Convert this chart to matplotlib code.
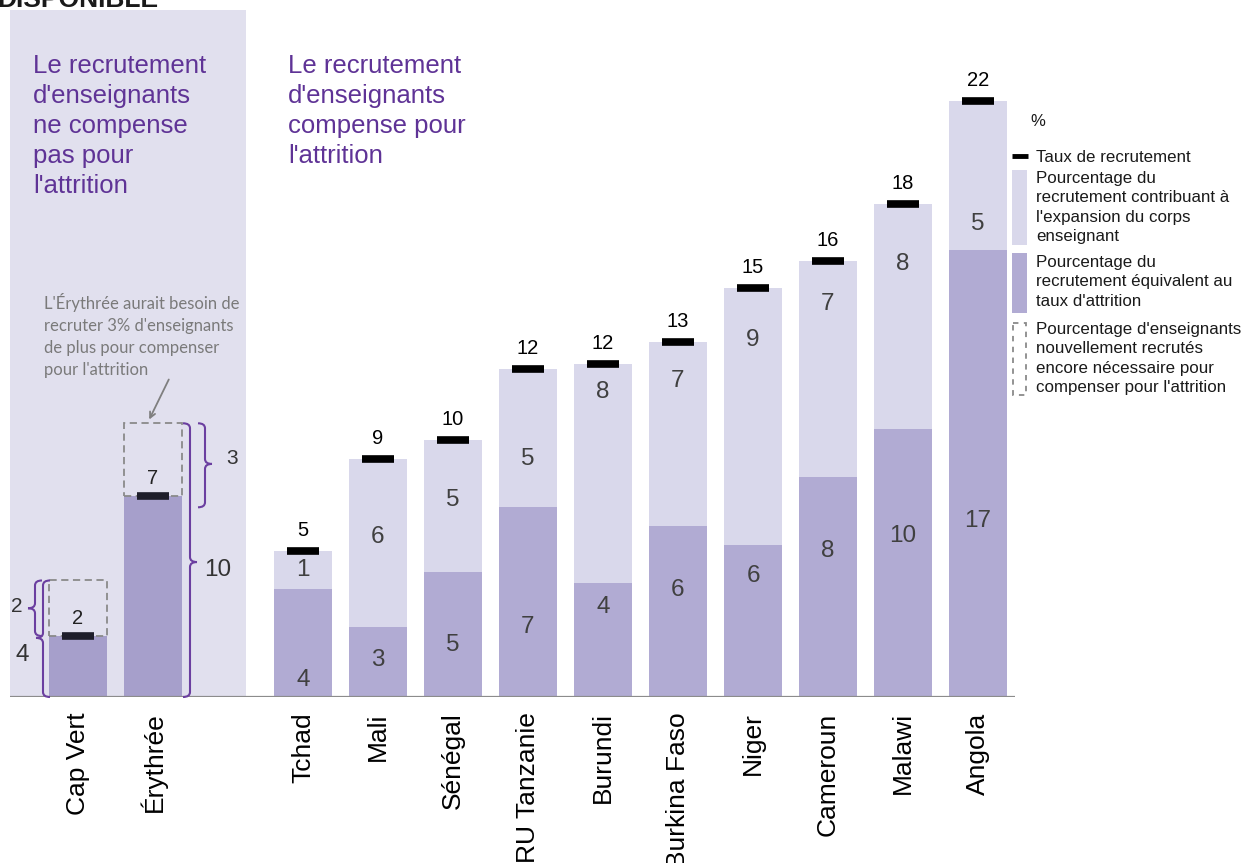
import matplotlib.pyplot as plt
from matplotlib.patches import Rectangle, PathPatch
from matplotlib.path import Path

plt.rcParams['font.family'] = ['Liberation Sans', 'DejaVu Sans']

# pays où le recrutement ne compense pas l'attrition
deficit_countries = ["Cap Vert", "Érythrée"]
deficit_recruit = [2.25, 7.4]      # taux de recrutement
deficit_needed = [4.3, 10.1]       # taux d'attrition (besoin)
deficit_recruit_lbl = ["2", "7"]

# pays où le recrutement compense l'attrition
countries = ["Tchad", "Mali", "Sénégal", "RU Tanzanie", "Burundi",
             "Burkina Faso", "Niger", "Cameroun", "Malawi", "Angola"]
recruit_total = [5.4, 8.8, 9.5, 12.1, 12.3, 13.1, 15.1, 16.1, 18.2, 22.0]
attrition_part = [4.0, 2.6, 4.6, 7.0, 4.2, 6.3, 5.6, 8.1, 9.9, 16.5]
total_lbl = ["5", "9", "10", "12", "12", "13", "15", "16", "18", "22"]
attrition_lbl = ["4", "3", "5", "7", "4", "6", "6", "8", "10", "17"]
expansion_lbl = ["1", "6", "5", "5", "8", "7", "9", "7", "8", "5"]

# layout: where the numbers sit inside the bars (same units as y)
expansion_lbl_y = [4.69, 5.90, 7.27, 8.78, 11.25, 11.66, 13.17, 14.5, 15.98, 17.45]
attrition_lbl_y = [0.63, 1.37, 1.92, 2.58, 3.32, 3.95, 4.46, 5.39, 5.94, 6.49]

LIGHT = "#d9d8eb"
DARK = "#b1abd3"
DARK2 = "#a69fcb"
SHADE = "#e1e0ee"
PURPLE = "#5f3396"
BRACE = "#6b3fa0"
NUM = "#404040"

W, H = 1246, 863
BASE = 697
PX_X = 1 / 75.0
PX_Y = 1 / 27.1

fig = plt.figure(figsize=(W / 100, H / 100), dpi=100)
ax = fig.add_axes([0, (H - BASE) / H, 1, BASE / H])
ax.set_xlim(-78 * PX_X, (W - 78) * PX_X)
ax.set_ylim(0, BASE * PX_Y)
for s in ax.spines.values():
    s.set_visible(False)
ax.set_yticks([])

x_def = [0, 1]
x_main = [i + 3 for i in range(len(countries))]
bw = 0.77

# fond grisé du groupe "ne compense pas"
ax.add_patch(Rectangle((-68 * PX_X, 0), 236 * PX_X, 687 * PX_Y, color=SHADE, zorder=0, lw=0))

# barres
ax.bar(x_def, deficit_recruit, width=bw, color=DARK2, zorder=2)
gap = [n - r for n, r in zip(deficit_needed, deficit_recruit)]
ax.bar(x_def, gap, bottom=deficit_recruit, width=bw, fill=False, edgecolor="#8a8a8a",
       linestyle=(0, (4, 2.5)), lw=1.3, zorder=2)
ax.bar(x_main, attrition_part, width=bw, color=DARK, zorder=2)
expansion = [t - a for t, a in zip(recruit_total, attrition_part)]
ax.bar(x_main, expansion, bottom=attrition_part, width=bw, color=LIGHT, zorder=2)

# taux de recrutement
ax.hlines(deficit_recruit, [x - 0.215 for x in x_def], [x + 0.215 for x in x_def],
          color="#1e1e2a", lw=5.5, capstyle="butt", zorder=3)
ax.hlines(recruit_total, [x - 0.215 for x in x_main], [x + 0.215 for x in x_main],
          color="black", lw=5.5, capstyle="butt", zorder=3)

for x, v, lbl in zip(x_def, deficit_recruit, deficit_recruit_lbl):
    ax.text(x, v + 0.65, lbl, ha="center", va="center", fontsize=14.5, color="#222222")
for x, v, lbl in zip(x_main, recruit_total, total_lbl):
    ax.text(x, v + 0.75, lbl, ha="center", va="center", fontsize=14.5, color="black")
for x, y, lbl in zip(x_main, expansion_lbl_y, expansion_lbl):
    ax.text(x, y, lbl, ha="center", va="center", fontsize=17.5, color=NUM, zorder=4)
for x, y, lbl in zip(x_main, attrition_lbl_y, attrition_lbl):
    ax.text(x, y, lbl, ha="center", va="center", fontsize=17.5, color=NUM, zorder=4)

# axe horizontal
ax.plot([-68 * PX_X, x_main[-1] + 0.49], [0, 0], color="#8c8c8c", lw=1.6, zorder=3,
        solid_capstyle="butt")

ax.set_xticks(x_def + x_main, deficit_countries + countries, rotation=90, fontsize=19)
ax.tick_params(axis="x", length=0, pad=11)


def brace(x, y0, y1, ytip, side, label, lx, ly, fs=15):
    hx = 7 * PX_X
    hy = 5 * PX_Y
    verts = [(x - side * hx, y0), (x, y0), (x, y0 + hy),
             (x, ytip - hy), (x, ytip), (x + side * hx, ytip),
             (x + side * hx, ytip), (x, ytip), (x, ytip + hy),
             (x, y1 - hy), (x, y1), (x - side * hx, y1)]
    codes = [Path.MOVETO, Path.CURVE3, Path.CURVE3,
             Path.LINETO, Path.CURVE3, Path.CURVE3,
             Path.MOVETO, Path.CURVE3, Path.CURVE3,
             Path.LINETO, Path.CURVE3, Path.CURVE3]
    ax.add_patch(PathPatch(Path(verts, codes), fill=False, edgecolor=BRACE, lw=1.5,
                           zorder=4, clip_on=False))
    ax.text(lx, ly, label, ha="center", va="center", fontsize=fs, color="#333333")


brace(-43 * PX_X, deficit_recruit[0], deficit_needed[0],
      (deficit_recruit[0] + deficit_needed[0]) / 2, -1, "2", -61 * PX_X, 90 * PX_Y)
brace(-35 * PX_X, 0, deficit_needed[0], deficit_recruit[0] - 0.07, -1, "4",
      -56 * PX_X, 42 * PX_Y, fs=17.5)
brace(127 * PX_X, 7.0, deficit_needed[1], 8.6, 1, "3", 154 * PX_X, 239 * PX_Y)
brace(112 * PX_X, 0, deficit_needed[1], 4.98, 1, "10", 140 * PX_X, 127 * PX_Y, fs=17.5)

# annotation Érythrée
ax.text(-34 * PX_X, 404 * PX_Y,
        "L'Érythrée aurait besoin de\nrecruter 3% d'enseignants\nde plus pour compenser\npour l'attrition",
        ha="left", va="top", fontsize=12, color="#7a7a7a", family=["Lato", "DejaVu Sans"],
        linespacing=1.45)
ax.annotate("", xy=(70 * PX_X, 275 * PX_Y), xytext=(92 * PX_X, 320 * PX_Y),
            arrowprops=dict(arrowstyle="->", color="#7f7f7f", lw=1.3))

# titres des groupes
ax.text(-45 * PX_X, 643 * PX_Y,
        "Le recrutement\nd'enseignants\nne compense\npas pour\nl'attrition",
        ha="left", va="top", fontsize=18.5, color=PURPLE, linespacing=1.31)
ax.text(210 * PX_X, 643 * PX_Y,
        "Le recrutement\nd'enseignants\ncompense pour\nl'attrition",
        ha="left", va="top", fontsize=18.5, color=PURPLE, linespacing=1.31)

# légende (coordonnées en pixels)
lax = fig.add_axes([0, 0, 1, 1])
lax.set_xlim(0, W)
lax.set_ylim(H, 0)
lax.axis("off")

lax.text(-3, 0, "DISPONIBLE", fontsize=19, fontweight="bold", color="#1a1a1a",
         ha="left", va="center")

lax.text(1030, 121, "%", fontsize=12, va="center", color="#1a1a1a")
lax.plot([1012, 1028], [156, 156], color="black", lw=3.5, solid_capstyle="butt")
lax.text(1036, 157, "Taux de recrutement", fontsize=12.2, va="center", color="#1a1a1a")
lax.add_patch(Rectangle((1012, 170), 15, 75, color=LIGHT, lw=0))
lax.text(1036, 171, "Pourcentage du\nrecrutement contribuant à\nl'expansion du corps\nenseignant",
         fontsize=12.2, va="top", color="#1a1a1a", linespacing=1.37)
lax.add_patch(Rectangle((1012, 253), 15, 60, color=DARK, lw=0))
lax.text(1036, 255, "Pourcentage du\nrecrutement équivalent au\ntaux d'attrition",
         fontsize=12.2, va="top", color="#1a1a1a", linespacing=1.37)
lax.add_patch(Rectangle((1013, 323), 13, 72, fill=False, edgecolor="#8a8a8a",
                        linestyle=(0, (3, 3)), lw=1.3))
lax.text(1036, 322, "Pourcentage d'enseignants\nnouvellement recrutés\nencore nécessaire pour\ncompenser pour l'attrition",
         fontsize=12.2, va="top", color="#1a1a1a", linespacing=1.37)

fig.savefig("out.png", dpi=100)
